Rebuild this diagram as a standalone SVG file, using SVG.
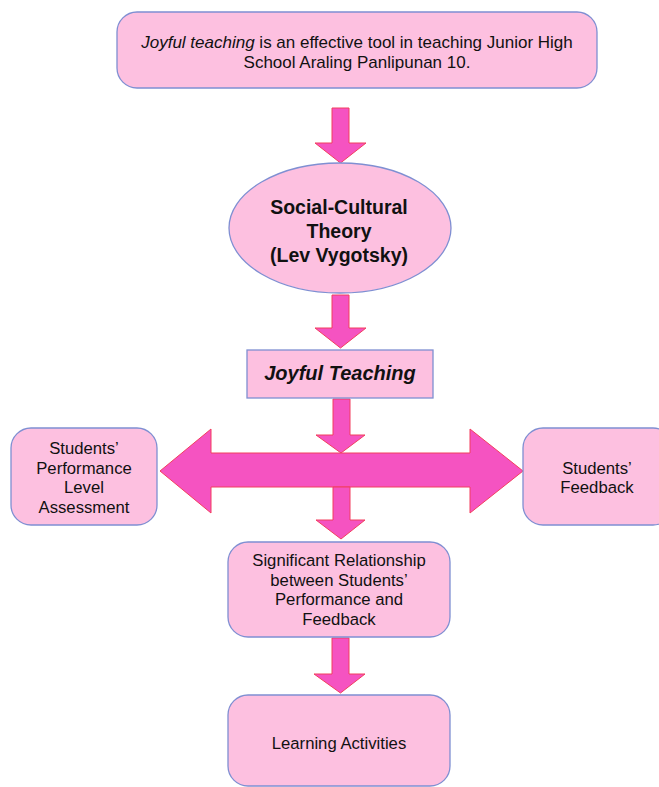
<svg xmlns="http://www.w3.org/2000/svg" width="659" height="787" viewBox="0 0 659 787">
<style>
.box{fill:#fdc0e0;stroke:#7f8fd2;stroke-width:1.3}
.arr{fill:#f553c1;stroke:#f23f5e;stroke-width:1}
text{font-family:"Liberation Sans",Arial,sans-serif;fill:#111;text-anchor:middle}
.t{font-size:16.7px}
.top{font-size:17px}
.b{font-size:19.5px;font-weight:bold}
</style>
<rect width="659" height="787" fill="#fff"/>
<g id="connectors">
<path class="arr" d="M332,108 H349 V143 H366 L340.5,163 L315,143 H332 Z"/>
<path class="arr" d="M332,295 H349 V328 H366 L340.5,348 L315,328 H332 Z"/>
<path class="arr" d="M333,399 H350 V435 H365 L341,453 L316,435 H333 Z"/>
<path class="arr" d="M160,471 L211,429 V453 H470 V429 L523,471 L470,513 V487 H211 V513 Z"/>
<path class="arr" d="M333,487 H350 V520 H365 L341,539 L316,520 H333 Z"/>
<path class="arr" d="M332,638 H349 V674 H365 L340.5,693 L314,674 H332 Z"/>
</g>
<g id="n1">
<rect class="box" x="117" y="12" width="480" height="76" rx="20"/>
<text class="top" x="357" y="48"><tspan font-style="italic">Joyful teaching</tspan> is an effective tool in teaching Junior High</text>
<text class="top" x="357" y="68">School Araling Panlipunan 10.</text>
</g>
<g id="n2">
<ellipse class="box" cx="340" cy="228" rx="111" ry="65"/>
<text class="b" x="339" y="214">Social-Cultural</text>
<text class="b" x="339" y="238">Theory</text>
<text class="b" x="339" y="262">(Lev Vygotsky)</text>
</g>
<g id="n3">
<rect class="box" x="247" y="350" width="186" height="48"/>
<text x="340" y="380" font-size="20" font-weight="bold" font-style="italic">Joyful Teaching</text>
</g>
<g id="n4">
<rect class="box" x="11" y="428" width="146" height="97" rx="20"/>
<text class="t" x="84" y="454">Students’</text>
<text class="t" x="84" y="474">Performance</text>
<text class="t" x="84" y="493">Level</text>
<text class="t" x="84" y="513">Assessment</text>
</g>
<g id="n5">
<rect class="box" x="523" y="428" width="150" height="97" rx="20"/>
<text class="t" x="597" y="474">Students’</text>
<text class="t" x="597" y="493">Feedback</text>
</g>
<g id="n6">
<rect class="box" x="228" y="542" width="222" height="95" rx="20"/>
<text class="t" x="339" y="566">Significant Relationship</text>
<text class="t" x="339" y="586">between Students’</text>
<text class="t" x="339" y="605">Performance and</text>
<text class="t" x="339" y="625">Feedback</text>
</g>
<g id="n7">
<rect class="box" x="228" y="695" width="222" height="91" rx="20"/>
<text class="t" x="339" y="749">Learning Activities</text>
</g>
</svg>
